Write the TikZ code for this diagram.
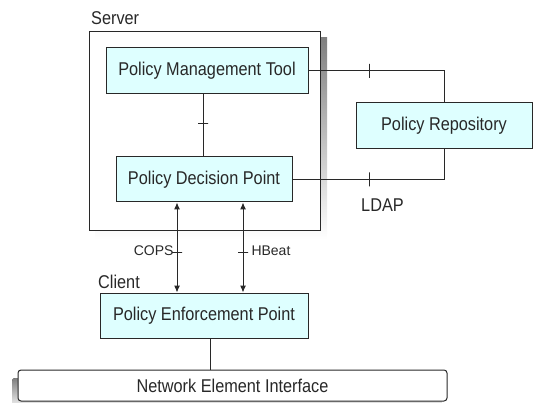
\documentclass[tikz,border=0pt]{standalone}
\usepackage{fontspec}
\setmainfont{Liberation Sans}[FakeStretch=0.88]
\newfontfamily\plainsans{Liberation Sans}
\usetikzlibrary{arrows.meta}
\definecolor{boxfill}{RGB}{222,255,255}
\definecolor{shade}{RGB}{96,96,150}
\definecolor{ink}{RGB}{40,40,40}
\begin{document}
\begin{tikzpicture}[x=1pt,y=-1pt,
  every node/.style={font=\fontsize{18.5}{21}\selectfont, text=ink},
  box/.style={draw=ink, line width=1pt, fill=boxfill, inner sep=0pt},
  conn/.style={draw=ink, line width=1pt},
  arr/.style={conn, {Latex[length=7pt,width=6pt]}-{Latex[length=7pt,width=6pt]}},
  tickv/.style={draw=ink, line width=1pt, inner sep=0pt, minimum width=0pt, minimum height=14pt, fill=none},
  tickh/.style={draw=ink, line width=1pt, inner sep=0pt, minimum height=0pt, minimum width=10pt, fill=none},
  lbl/.style={font=\plainsans\fontsize{14}{16}\selectfont, inner sep=0pt}]
\useasboundingbox (0,0) rectangle (535,403);
% shadows
\fill[shade] (95,38) rectangle (327,239);
\fill[shade, rounded corners=3pt] (12,378) rectangle (441,410);
% server frame
\node[draw=ink, line width=1pt, fill=white, minimum width=231pt, minimum height=199pt, inner sep=0pt] (server) at (204.5,131.5) {};
\node[anchor=west, inner sep=0pt] (serverlbl) at (91,18) {Server};
% boxes
\node[box, minimum width=202pt, minimum height=46pt] (pmt) at (207,71) {Policy Management Tool};
\node[box, minimum width=176pt, minimum height=45pt] (pdp) at (204,179.5) {Policy Decision Point};
\node[box, minimum width=176pt, minimum height=46pt] (pr) at (444,126) {Policy Repository};
\node[box, minimum width=208pt, minimum height=45pt] (pep) at (204,315.5) {Policy Enforcement Point};
\node[draw=ink, line width=1pt, fill=white, rounded corners=3pt, minimum width=429pt, minimum height=31pt, inner sep=0pt] (nei) at (232.5,385.5) {Network Element Interface};
% labels
\node[anchor=west, inner sep=0pt] (ldap) at (361,205) {LDAP};
\node[anchor=west, inner sep=0pt] (client) at (98,281.5) {Client};
% connectors
\draw[conn] ([xshift=-1pt]pdp.north) -- ([xshift=-1pt]pdp.north |- pmt.south) node[pos=0.54, tickh] {};
\draw[conn] (pmt.east) -| (pr.north) node[pos=0.224, tickv] {};
\draw[conn] (pdp.east) -| (pr.south) node[pos=0.253, tickv] {};
\draw[arr] ([xshift=-27pt]pdp.south) -- ([xshift=-27pt]pdp.south |- pep.north)
  node[pos=0.56, tickh] {} node[pos=0.535, lbl, anchor=east, xshift=-3pt] (cops) {COPS};
\draw[arr] ([xshift=39pt]pdp.south) -- ([xshift=39pt]pdp.south |- pep.north)
  node[pos=0.56, tickh] {} node[pos=0.535, lbl, anchor=west, xshift=8pt] (hbeat) {HBeat};
\draw[conn] ([xshift=6pt]pep.south) -- ([xshift=6pt]pep.south |- nei.north);
\end{tikzpicture}
\end{document}
